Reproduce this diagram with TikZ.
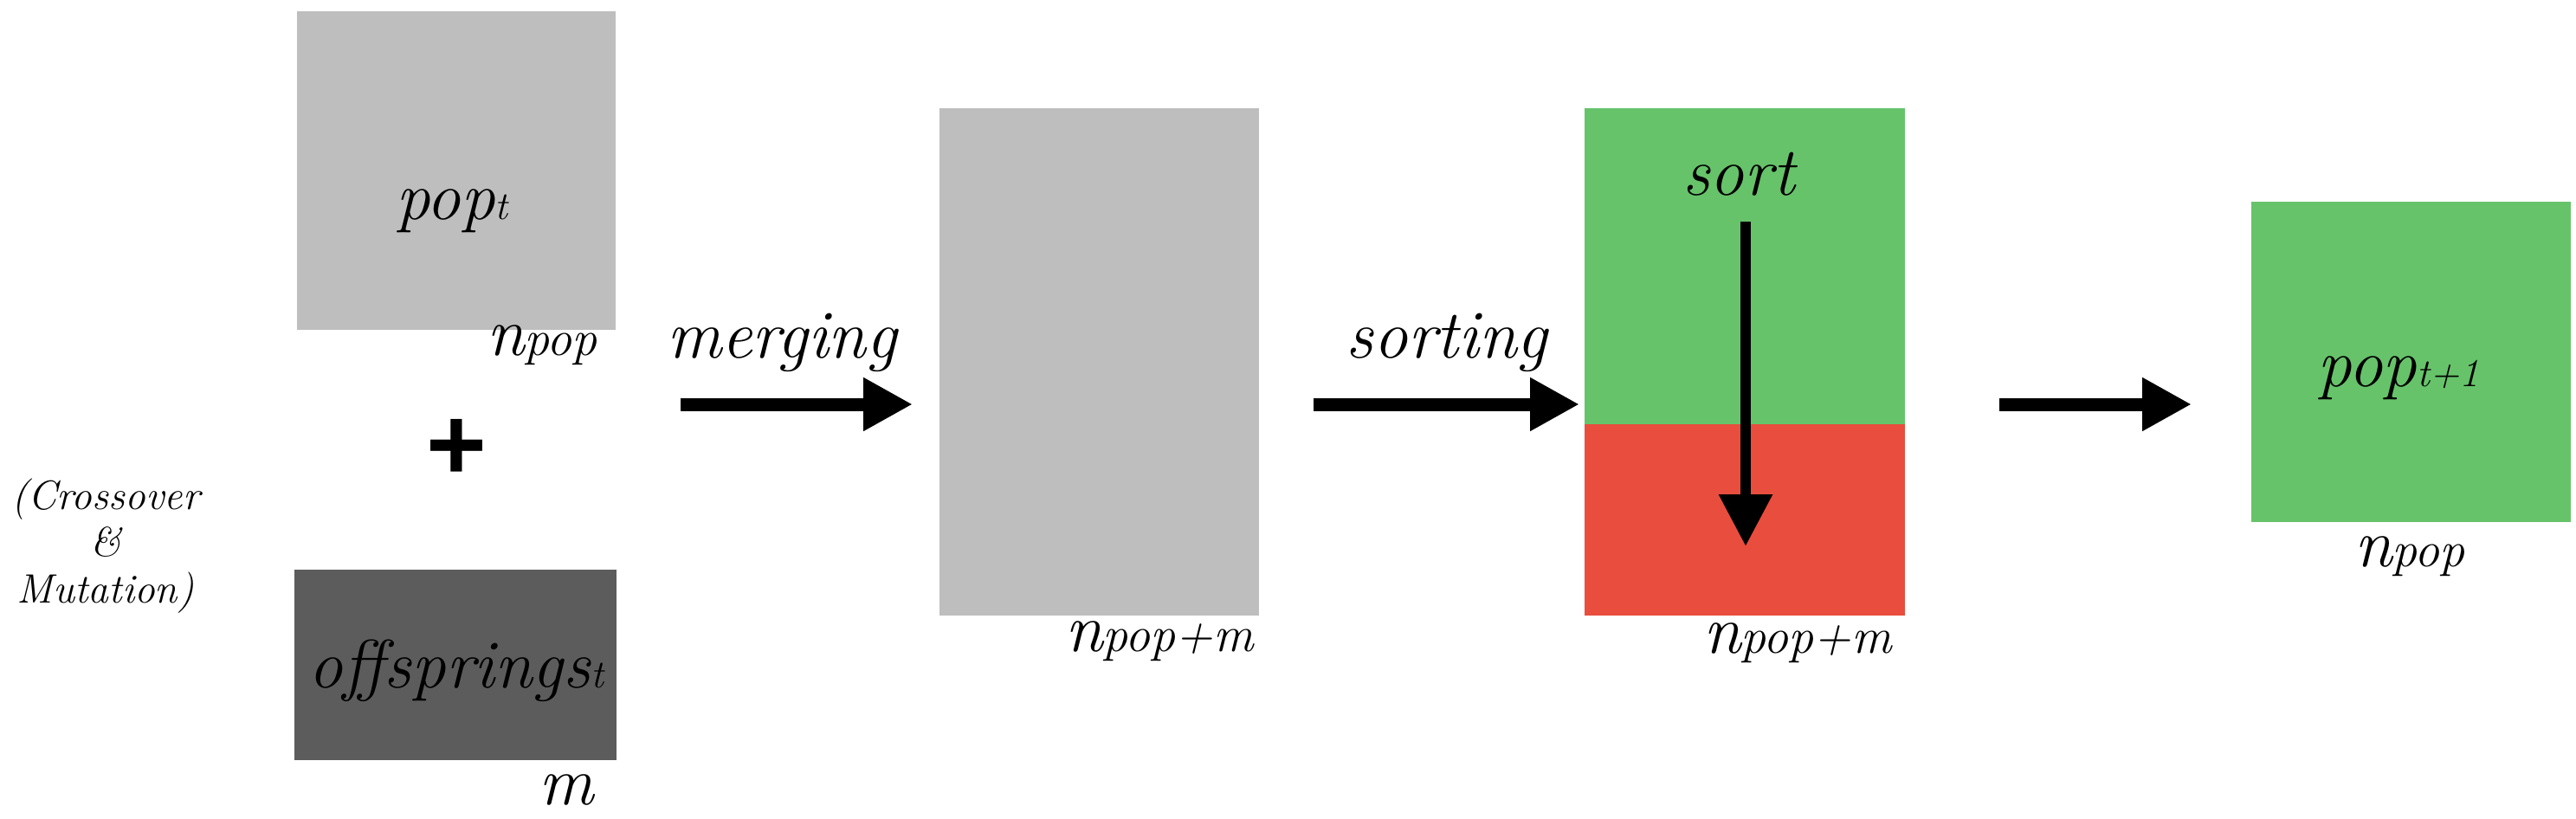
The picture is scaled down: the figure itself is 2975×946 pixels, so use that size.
\documentclass[tikz,border=0pt]{standalone}
\usepackage{fontspec}
\newfontfamily\plusfont{Liberation Sans}
\usetikzlibrary{arrows.meta}
\definecolor{lgray}{HTML}{BEBEBE}
\definecolor{dgray}{HTML}{5C5C5C}
\definecolor{lgreen}{HTML}{66C36A}
\definecolor{lred}{HTML}{E84D3E}
\newcommand\sbs[1]{{\fontsize{16.5}{18}\selectfont #1}}
\newcommand\sbt[1]{{\fontsize{13}{15}\selectfont #1}}
\tikzset{
  box/.style={rectangle,inner sep=0pt,outer sep=0pt,draw=none},
  lbl/.style={anchor=base,inner sep=0pt,font=\itshape\fontsize{22.5}{27}\selectfont},
  flow/.style={line width=1.5mm,-{Triangle[length=5.7mm,width=5.8mm]}},
  vflow/.style={line width=1.25mm,-{Triangle[length=6mm,width=5.9mm]}},
  plussign/.style={inner sep=0pt,font=\plusfont\bfseries\fontsize{34}{34}\selectfont},
  note/.style={align=center,inner sep=0pt,font=\itshape\fontsize{13.5}{15.4}\selectfont}
}
\begin{document}
\begin{tikzpicture}[x=0.1mm,y=-0.1mm]
\useasboundingbox (0,0) rectangle (2975,946);
% left column
\node[box,fill=lgray,minimum width=36.8mm,minimum height=36.8mm] (popt) at (527,197) {};
\node[lbl] (poptl) at (522,253) {pop\sbt{t}};
\node[lbl] (npopa) at (626,410) {n\sbs{pop}};
\node[plussign] (plus) at (527,519) {+};
\node[note] (cm) at (122,631) {(Crossover\\\&\\Mutation)};
\node[box,fill=dgray,minimum width=37.2mm,minimum height=22mm] (off) at (526,768) {};
\node[lbl] (offl) at (527,794) {offsprings\sbt{t}};
\node[lbl] (ml) at (654,929) {m};
% merging
\coordinate (ma) at (786,467);
\coordinate (mb) at (1054,467);
\draw[flow] (ma) -- (mb);
\node[lbl] (mergl) at (903,413) {merging};
\node[box,fill=lgray,minimum width=36.9mm,minimum height=58.6mm] (merged) at (1269.5,418) {};
\node[lbl] (npmb) at (1339,752) {n\sbs{pop+m}};
% sorting
\coordinate (sa) at (1517,467);
\coordinate (sb) at (1824,467);
\draw[flow] (sa) -- (sb);
\node[lbl] (sortl) at (1671,413) {sorting};
\node[box,fill=lgreen,minimum width=37mm,minimum height=36.5mm] (good) at (2015,307.5) {};
\node[box,fill=lred,minimum width=37mm,minimum height=22.1mm] (bad) at (2015,600.5) {};
\node[lbl] (sortw) at (2008,225) {sort};
\coordinate (va) at (2016,256);
\coordinate (vb) at (2016,631);
\draw[vflow] (va) -- (vb);
\node[lbl] (npmc) at (2076,754) {n\sbs{pop+m}};
% selection
\coordinate (ta) at (2309,467);
\coordinate (tb) at (2531,467);
\draw[flow] (ta) -- (tb);
\node[box,fill=lgreen,minimum width=36.9mm,minimum height=37mm] (next) at (2784.5,418) {};
\node[lbl] (nextl) at (2770,446) {pop\sbt{t+1}};
\node[lbl] (npopd) at (2783,654) {n\sbs{pop}};
\end{tikzpicture}
\end{document}
